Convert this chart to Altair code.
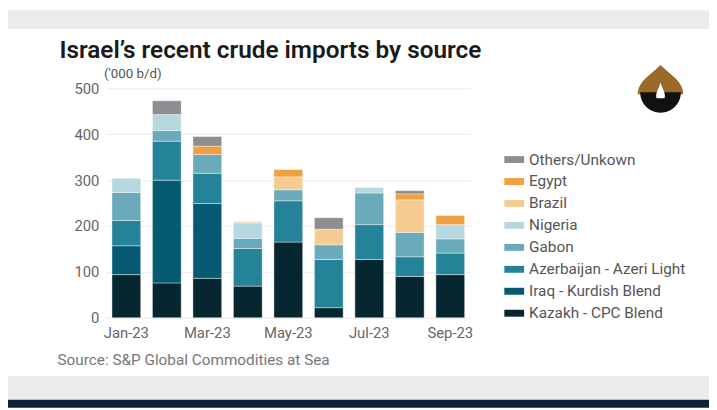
import altair as alt
import pandas as pd

months = ["Jan-23", "Feb-23", "Mar-23", "Apr-23", "May-23", "Jun-23", "Jul-23", "Aug-23", "Sep-23"]
tick_months = ["Jan-23", "Mar-23", "May-23", "Jul-23", "Sep-23"]

kazakh = [94, 76, 86, 69, 165, 22, 127, 90, 94]
iraq = [63, 224, 163, 0, 0, 0, 0, 0, 0]
azeri = [55, 85, 66, 82, 90, 105, 76, 43, 47]
gabon = [61, 23, 41, 22, 24, 32, 69, 53, 31]
nigeria = [31, 35, 0, 34, 0, 0, 12, 0, 31]
brazil = [0, 0, 0, 2, 28, 34, 0, 71, 0]
egypt = [0, 0, 18, 1, 16, 0, 0, 13, 20]
others = [0, 30, 21, 0, 0, 25, 0, 7, 0]

series_names = ["Kazakh - CPC Blend", "Iraq - Kurdish Blend", "Azerbaijan - Azeri Light",
                "Gabon", "Nigeria", "Brazil", "Egypt", "Others/Unkown"]
series_values = [kazakh, iraq, azeri, gabon, nigeria, brazil, egypt, others]
series_colors = ["#062630", "#055a72", "#248399", "#6aaabb", "#b5d8e0", "#f6cb91", "#f0a043", "#8e8e92"]

rows = []
for k, (name, vals) in enumerate(zip(series_names, series_values)):
    for m, v in zip(months, vals):
        if v > 0:
            rows.append({"month": m, "source": name, "value": v, "stackidx": k})
df = pd.DataFrame(rows)

legend_domain = series_names[::-1]
legend_range = series_colors[::-1]

FONT = "Roboto"
dummy = pd.DataFrame({"a": [0]})

def band(y1, y2, color):
    return alt.Chart(dummy).mark_rect(color=color).encode(
        x=alt.value(-99), x2=alt.value(610), y=alt.value(y1), y2=alt.value(y2))

top_band = band(-79, -60, "#ececec")
bottom_band = band(291, 315, "#ececec")
bottom_navy = band(315, 323, "#0d2438")

# simple logo approximation (decoration)
logo_top = alt.Chart(dummy).mark_point(
    shape="M-1,0.3 C-1,-0.3 -0.35,-0.6 0,-1 C0.35,-0.6 1,-0.3 1,0.3 Z",
    size=2116, filled=True, color="#9b6a28", opacity=1
).encode(x=alt.value(561), y=alt.value(-1))
logo_gear = alt.Chart(dummy).mark_point(
    shape="M-1,0 A1,1 0 0,0 1,0 Z",
    size=1700, filled=True, color="#111111", opacity=1
).encode(x=alt.value(561), y=alt.value(4))
logo_flame = alt.Chart(dummy).mark_point(
    shape="M-0.5,1 C-0.7,0.3 -0.2,-0.2 0,-1 C0.2,-0.2 0.7,0.3 0.5,1 Z",
    size=260, filled=True, color="white", opacity=1
).encode(x=alt.value(561), y=alt.value(2))

bars = alt.Chart(df).mark_bar(stroke="white", strokeWidth=0.4).encode(
    x=alt.X("month:N", sort=months,
            scale=alt.Scale(paddingInner=0.29, paddingOuter=0.15),
            axis=alt.Axis(values=tick_months, labelAngle=0, domain=False, ticks=False,
                          labelPadding=8, labelFontSize=15, labelColor="#666666",
                          labelFont=FONT, title=None, grid=False)),
    y=alt.Y("value:Q", stack="zero",
            scale=alt.Scale(domain=[0, 500]),
            axis=alt.Axis(values=[0, 100, 200, 300, 400, 500], grid=True, gridColor="#ebebeb",
                          domain=False, ticks=False, labelFontSize=15, labelColor="#666666",
                          labelFont=FONT, labelPadding=7, title=None)),
    color=alt.Color("source:N",
                    scale=alt.Scale(domain=legend_domain, range=legend_range),
                    legend=alt.Legend(orient="none", legendX=403, legendY=62, title=None,
                                      symbolType="M-1,-0.35L1,-0.35L1,0.35L-1,0.35Z",
                                      symbolSize=400, symbolStrokeWidth=0,
                                      labelFontSize=15.5, labelColor="#555555", labelFont=FONT,
                                      rowPadding=3.2, labelOffset=5)),
    order=alt.Order("stackidx:Q", sort="ascending"),
)

title = alt.Chart(dummy).mark_text(
    text="Israel\u2019s recent crude imports by source", align="left", baseline="alphabetic",
    fontSize=24.6, fontWeight=600, font=FONT, color="#1a1a1a"
).encode(x=alt.value(-47), y=alt.value(-31))

subtitle = alt.Chart(dummy).mark_text(
    text="('000 b/d)", align="left", baseline="alphabetic",
    fontSize=13.5, font=FONT, color="#555555"
).encode(x=alt.value(-2), y=alt.value(-10))

source = alt.Chart(dummy).mark_text(
    text="Source: S&P Global Commodities at Sea", align="left", baseline="alphabetic",
    fontSize=15.5, font=FONT, color="#777777"
).encode(x=alt.value(-49), y=alt.value(280))

chart = alt.layer(top_band, bottom_band, bottom_navy, logo_top, logo_gear, logo_flame,
                  bars, title, subtitle, source).properties(
    width=369, height=232,
    autosize=alt.AutoSizeParams(type="none"),
    padding={"left": 99, "top": 79, "right": 241, "bottom": 91},
    background="white",
).configure_view(stroke=None)

chart.save("out.html", embed_options={"renderer": "svg", "actions": False})
